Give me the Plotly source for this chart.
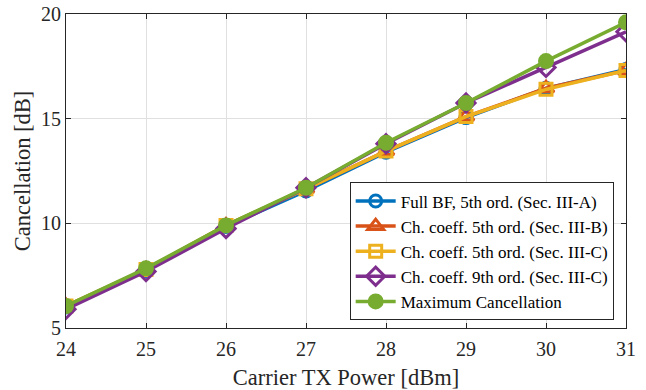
import plotly.graph_objects as go

x_power = [24, 25, 26, 27, 28, 29, 30, 31]
full_bf_5 = [6.0, 7.75, 9.85, 11.55, 13.4, 15.05, 16.45, 17.35]
ch_coeff_5_b = [6.05, 7.8, 9.9, 11.65, 13.45, 15.1, 16.45, 17.3]
ch_coeff_5_c = [6.05, 7.8, 9.9, 11.65, 13.45, 15.1, 16.4, 17.3]
ch_coeff_9_c = [5.9, 7.7, 9.75, 11.7, 13.8, 15.75, 17.45, 19.15]
max_cancel = [6.05, 7.85, 9.9, 11.7, 13.85, 15.75, 17.75, 19.6]

names = [
    "Full BF, 5th ord. (Sec. III-A)",
    "Ch. coeff. 5th ord. (Sec. III-B)",
    "Ch. coeff. 5th ord. (Sec. III-C)",
    "Ch. coeff. 9th ord. (Sec. III-C)",
    "Maximum Cancellation",
]
series = [full_bf_5, ch_coeff_5_b, ch_coeff_5_c, ch_coeff_9_c, max_cancel]
colors = ["#0072BD", "#D95319", "#EDB120", "#7E2F8E", "#77AC30"]
symbols = ["circle-open", "triangle-up-open", "square-open", "diamond-open", "circle"]
sizes = [12, 14, 12, 14, 13]

fig = go.Figure()
for n, s, c, sym, sz in zip(names, series, colors, symbols, sizes):
    fig.add_trace(go.Scatter(
        x=x_power, y=s, name=n, mode="lines+markers",
        line=dict(color=c, width=3.5),
        marker=dict(symbol=sym, size=sz, color=c, line=dict(color=c, width=3)),
    ))

font_family = "Liberation Serif, Times New Roman, serif"
fig.update_layout(
    width=646, height=390,
    margin=dict(l=66, r=20, t=14, b=62),
    paper_bgcolor="white", plot_bgcolor="white",
    font=dict(family=font_family, size=20, color="#262626"),
    legend=dict(
        x=0.978, y=0.024, xanchor="right", yanchor="bottom",
        bgcolor="white", bordercolor="#262626", borderwidth=1,
        font=dict(family=font_family, size=17, color="black"),
        tracegroupgap=0, itemwidth=40,
    ),
    showlegend=True,
)
fig.update_xaxes(
    range=[24, 31], tickvals=x_power, ticks="inside", ticklen=5,
    tickfont=dict(size=20), tickcolor="#262626", ticklabelstandoff=3,
    showline=True, linecolor="#262626", linewidth=1, automargin=False,
    mirror="ticks", showgrid=True, gridcolor="#e0e0e0", zeroline=False,
    title=dict(text="Carrier TX Power [dBm]", font=dict(size=22.5), standoff=10),
)
fig.update_yaxes(
    range=[5, 20], tickvals=[5, 10, 15, 20], ticks="inside", ticklen=5,
    tickfont=dict(size=20), tickcolor="#262626", automargin=False,
    showline=True, linecolor="#262626", linewidth=1,
    mirror="ticks", showgrid=True, gridcolor="#e0e0e0", zeroline=False,
    title=dict(text="Cancellation [dB]", font=dict(size=22.5), standoff=4),
)

fig.write_html("out.html")
